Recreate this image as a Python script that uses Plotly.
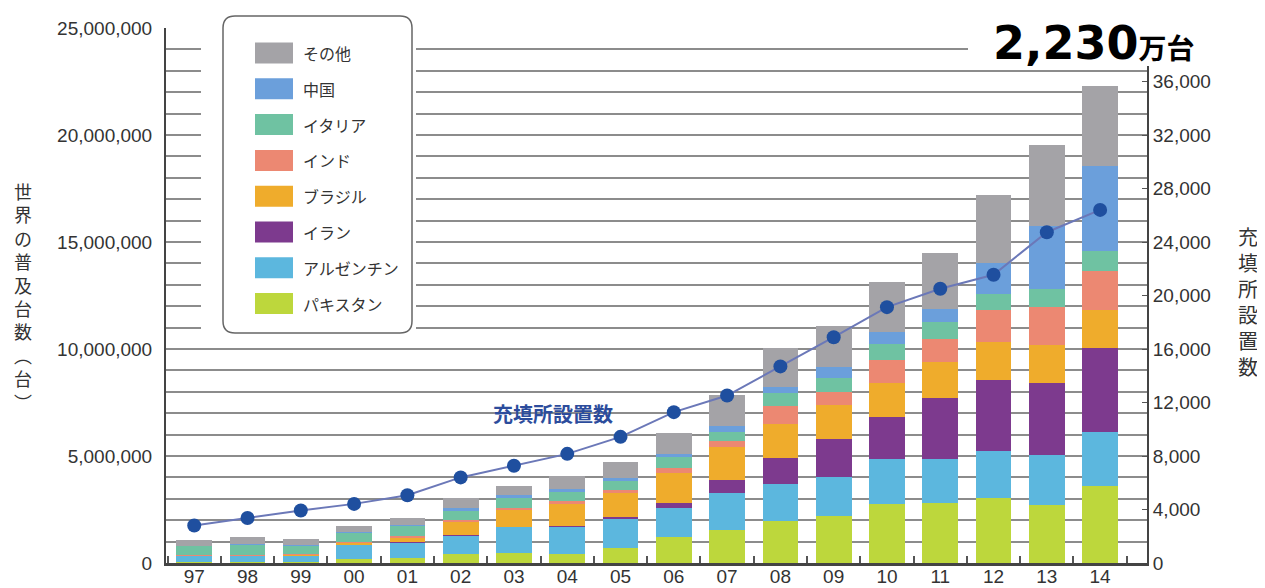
import plotly.graph_objects as go

years = ["97", "98", "99", "00", "01", "02", "03", "04", "05",
         "06", "07", "08", "09", "10", "11", "12", "13", "14"]

# 普及台数 (百万台), stacked bottom -> top
pakistan = [0.03, 0.03, 0.03, 0.18, 0.24, 0.41, 0.47, 0.44, 0.72,
            1.22, 1.56, 1.97, 2.20, 2.76, 2.81, 3.05, 2.70, 3.62]
argentina = [0.32, 0.30, 0.34, 0.70, 0.72, 0.89, 1.22, 1.28, 1.36,
             1.33, 1.72, 1.72, 1.83, 2.11, 2.04, 2.20, 2.33, 2.49]
iran = [0.00, 0.00, 0.00, 0.00, 0.01, 0.01, 0.01, 0.01, 0.07,
        0.25, 0.59, 1.20, 1.75, 1.93, 2.85, 3.31, 3.39, 3.93]
brazil = [0.02, 0.02, 0.05, 0.08, 0.22, 0.61, 0.77, 1.02, 1.10,
          1.42, 1.54, 1.61, 1.61, 1.61, 1.70, 1.75, 1.78, 1.79]
india = [0.01, 0.01, 0.01, 0.02, 0.06, 0.11, 0.12, 0.15, 0.15,
         0.20, 0.29, 0.84, 0.62, 1.09, 1.07, 1.51, 1.75, 1.80]
italy = [0.42, 0.50, 0.38, 0.45, 0.50, 0.44, 0.43, 0.42, 0.44,
         0.55, 0.44, 0.59, 0.63, 0.75, 0.80, 0.74, 0.85, 0.94]
china = [0.01, 0.02, 0.02, 0.03, 0.03, 0.08, 0.15, 0.12, 0.11,
         0.12, 0.26, 0.29, 0.50, 0.55, 0.60, 1.46, 2.94, 4.00]
others = [0.26, 0.32, 0.30, 0.25, 0.31, 0.51, 0.42, 0.62, 0.78,
          1.00, 1.45, 1.82, 1.95, 2.32, 2.61, 3.18, 3.80, 3.73]

# 充填所設置数
stations = [2800, 3370, 3930, 4420, 5070, 6400, 7270, 8160, 9430,
            11280, 12520, 14700, 16880, 19130, 20500, 21550, 24730, 26400]

series = [
    ("パキスタン", pakistan, "#bdd73c"),
    ("アルゼンチン", argentina, "#5cb7de"),
    ("イラン", iran, "#7d3a8e"),
    ("ブラジル", brazil, "#efac2c"),
    ("インド", india, "#ec8872"),
    ("イタリア", italy, "#6fc2a2"),
    ("中国", china, "#6b9fdb"),
    ("その他", others, "#a4a3a7"),
]

# the page body has an 8px margin, so the figure starts at (8, 8)
OFF = 8
W, H = 1265 - OFF, 588 - OFF
L, R, T, B = 166, 1147, 28, 563   # plot area in page pixels


def px(x):
    return (x - L) / (R - L)


def py(y):
    return (B - y) / (B - T)


fig = go.Figure()

for name, vals, color in series:
    fig.add_bar(
        x=years,
        y=[v * 1_000_000 for v in vals],
        name=name,
        marker=dict(color=color, line=dict(width=0)),
    )

fig.add_scatter(
    x=years,
    y=stations,
    yaxis="y2",
    mode="lines+markers",
    line=dict(color="#6b78b8", width=2),
    marker=dict(color="#1f4f9f", size=14),
    name="充填所設置数",
)

tick_font = dict(family="Liberation Sans, Arial", size=19, color="#333")
jp = "Noto Sans CJK JP"

fig.update_layout(
    width=W,
    height=H,
    barmode="stack",
    bargap=0.33,
    showlegend=False,
    paper_bgcolor="white",
    plot_bgcolor="white",
    margin=dict(l=L - OFF, r=W + OFF - R, t=T - OFF, b=H + OFF - B),
    xaxis=dict(
        type="category",
        range=[-0.53, 17.88],
        automargin=False,
        showline=True,
        linecolor="#444",
        linewidth=2.5,
        ticks="inside",
        tickson="boundaries",
        ticklen=7,
        tickwidth=2,
        tickcolor="#555",
        tickfont=tick_font,
        ticklabelstandoff=-6,
        showgrid=False,
    ),
    yaxis=dict(
        range=[0, 25_000_000],
        dtick=5_000_000,
        tickformat=",",
        automargin=False,
        showline=True,
        linecolor="#444",
        linewidth=2,
        showgrid=True,
        gridcolor="#8c8c8c",
        gridwidth=2,
        minor=dict(dtick=1_000_000, showgrid=True, gridcolor="#8c8c8c", gridwidth=2),
        tickfont=tick_font,
        ticklabelstandoff=8,
        zeroline=False,
    ),
    yaxis2=dict(
        overlaying="y",
        side="right",
        range=[0, 40000],
        tickvals=list(range(0, 40000, 4000)),
        tickformat=",",
        automargin=False,
        showline=True,
        linecolor="#444",
        linewidth=2,
        ticks="inside",
        ticklen=5,
        tickcolor="#555",
        showgrid=False,
        zeroline=False,
        tickfont=tick_font,
    ),
)

shapes = []
annotations = []

# white area behind the legend box
shapes.append(dict(type="rect", xref="paper", yref="paper",
                   x0=px(201), x1=px(416), y0=py(342), y1=py(4),
                   fillcolor="white", line=dict(width=0), layer="above"))

# white area behind the headline number
shapes.append(dict(type="rect", xref="paper", yref="paper",
                   x0=px(968), x1=px(1270), y0=py(66), y1=py(-5),
                   fillcolor="white", line=dict(width=0), layer="above"))

# rounded legend frame
x0, x1, y0, y1 = px(223), px(412), py(333), py(16)
rx, ry = 12 / (R - L), 12 / (B - T)
path = (
    f"M {x0 + rx},{y1} L {x1 - rx},{y1} Q {x1},{y1} {x1},{y1 - ry} "
    f"L {x1},{y0 + ry} Q {x1},{y0} {x1 - rx},{y0} "
    f"L {x0 + rx},{y0} Q {x0},{y0} {x0},{y0 + ry} "
    f"L {x0},{y1 - ry} Q {x0},{y1} {x0 + rx},{y1} Z"
)
shapes.append(dict(type="path", xref="paper", yref="paper", path=path,
                   line=dict(color="#666", width=1.5), layer="above"))

# legend items, top -> bottom
for i, (name, vals, color) in enumerate(reversed(series)):
    cy = 53 + i * 35.8
    shapes.append(dict(type="rect", xref="paper", yref="paper",
                       x0=px(255), x1=px(293), y0=py(cy + 10.5), y1=py(cy - 10.5),
                       fillcolor=color, line=dict(width=0), layer="above"))
    annotations.append(dict(xref="paper", yref="paper", x=px(301), y=py(cy),
                            xanchor="left", yanchor="middle", showarrow=False,
                            text=name, font=dict(family=jp, size=16, color="#333")))

# headline
annotations.append(dict(
    xref="paper", yref="paper", x=px(991), y=py(43),
    xanchor="left", yanchor="middle", showarrow=False,
    text="<b>2,230</b><b><span style='font-size:28px;font-family:Noto Sans CJK JP'>万台</span></b>",
    font=dict(family="DejaVu Sans", size=46, color="black"),
))

# line label
annotations.append(dict(
    xref="paper", yref="paper", x=px(553), y=py(413),
    xanchor="center", yanchor="middle", showarrow=False,
    text="<b>充填所設置数</b>",
    font=dict(family=jp, size=20, color="#2c4c9c"),
))

# left axis title (vertical)
annotations.append(dict(
    xref="paper", yref="paper", x=px(23), y=py(296),
    xanchor="center", yanchor="middle", showarrow=False,
    text="<br>".join("世界の普及台数︵台︶"),
    font=dict(family=jp, size=18, color="#333"),
))

# right axis title (vertical)
annotations.append(dict(
    xref="paper", yref="paper", x=px(1248), y=py(302),
    xanchor="center", yanchor="middle", showarrow=False,
    text="<br>".join("充填所設置数"),
    font=dict(family=jp, size=20, color="#333"),
))

fig.update_layout(shapes=shapes, annotations=annotations)

fig.write_html("out.html")
